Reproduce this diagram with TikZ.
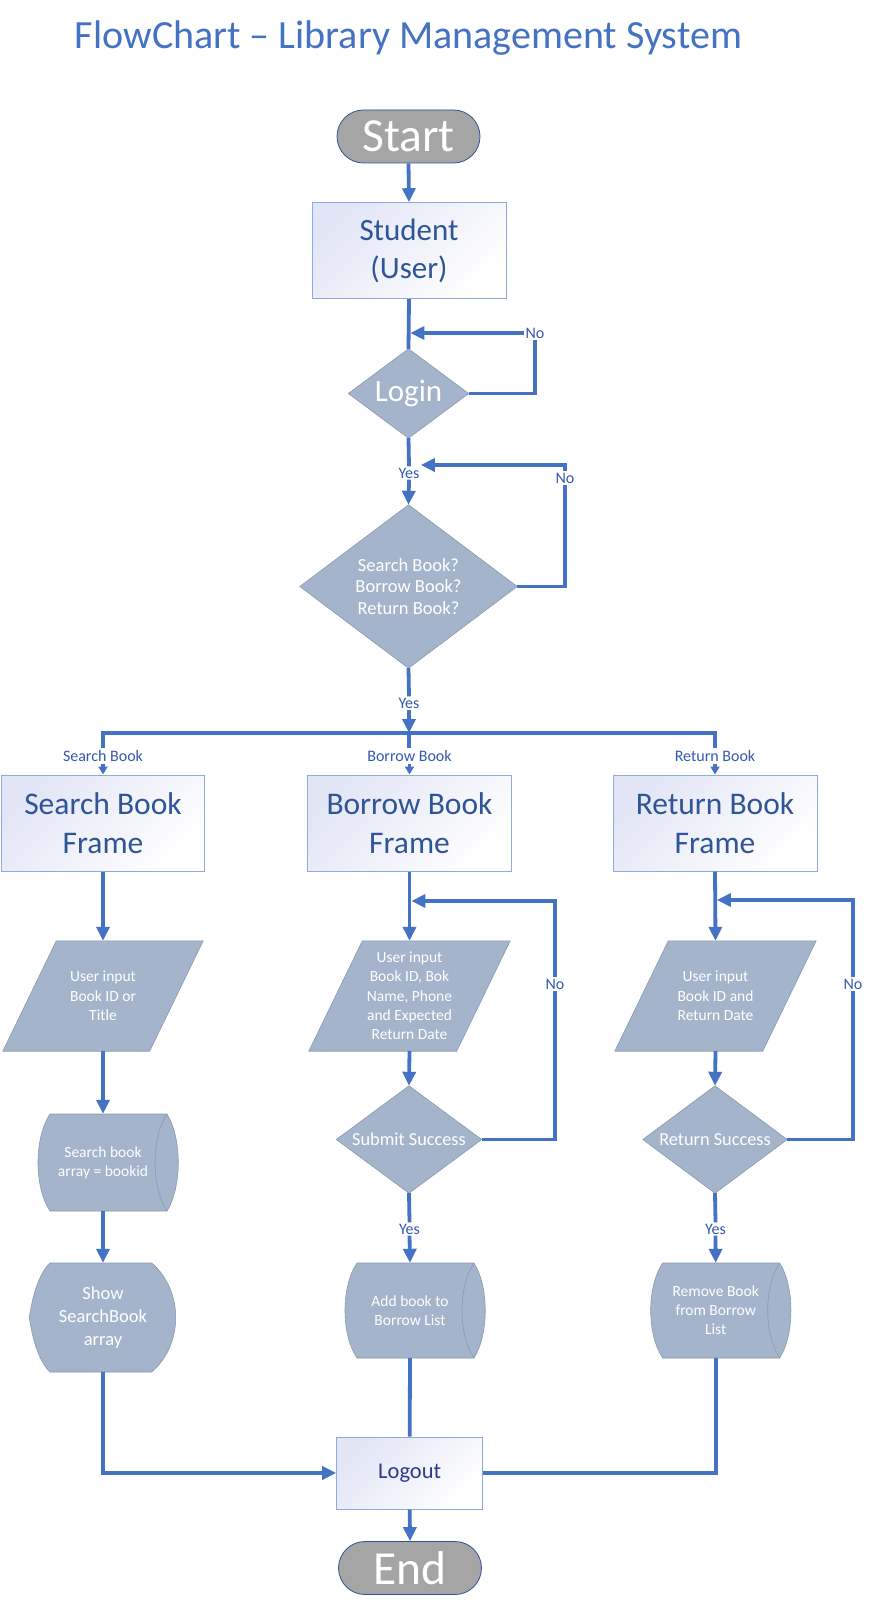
\documentclass[tikz,border=0pt]{standalone}
\usepackage{fontspec}
\setmainfont{Carlito}
\usetikzlibrary{arrows.meta,backgrounds,calc}
\definecolor{lineblue}{RGB}{68,114,196}
\definecolor{shapefill}{RGB}{164,180,203}
\definecolor{shapeedge}{RGB}{138,154,180}
\definecolor{boxedge}{RGB}{143,170,220}
\definecolor{lav}{RGB}{226,229,245}
\definecolor{boxtext}{RGB}{47,85,151}
\definecolor{logtext}{RGB}{46,58,140}
\definecolor{termfill}{RGB}{165,165,165}
\definecolor{termedge}{RGB}{47,85,151}
\definecolor{labtext}{RGB}{52,90,175}
\begin{document}
\begin{tikzpicture}[x=1pt,y=-1pt,
  flow/.style={draw=lineblue, line width=3.8pt},
  arr/.style={flow, -{Triangle[length=14pt,width=13pt]}},
  sarr/.style={flow, -{Triangle[length=8pt,width=9pt]}},
  lab/.style={text=labtext, font=\fontsize{16}{19}\selectfont, inner sep=1.2pt},
  term/.style={rectangle, rounded corners=26.5pt, minimum width=143pt, minimum height=53pt,
    fill=termfill, draw=termedge, line width=0.8pt, text=white,
    font=\fontsize{47.5}{50}\selectfont, inner sep=0pt},
  proc/.style={rectangle, draw=boxedge, line width=1pt, top color=lav, bottom color=white,
    shading angle=45, text=boxtext, align=center, inner sep=0pt},
  shp/.style={rectangle, inner sep=0pt, text=white, align=center},
  dia/.style={fill=shapefill, draw=shapeedge, line width=0.6pt},
  diaedge/.style={draw=shapeedge, line width=0.6pt}
]
\useasboundingbox (0,0) rectangle (871,1621);

% title
\node[text=lineblue, font=\fontsize{40}{48}\selectfont, anchor=base, inner sep=0pt] (title) at (408.5,49) {FlowChart – Library Management System};

% main nodes
\node[term] (start) at (408.5,136.5) {Start};
\node[proc, minimum width=194pt, minimum height=96pt, font=\fontsize{31}{38.5}\selectfont] (student) at (409,250.7) {\raisebox{-2pt}{Student}\\\raisebox{-2pt}{(User)}};
\node[shp, minimum width=120pt, minimum height=89pt, font=\fontsize{31}{36}\selectfont] (login) at (408.5,393.5) {\raisebox{-2pt}{Login}};
\node[shp, minimum width=217pt, minimum height=163pt, font=\fontsize{18.5}{21.7}\selectfont] (menu) at (408.5,586.5) {Search Book?\\Borrow Book?\\Return Book?};

% labels
\node[lab] (nol) at (535,333) {No};
\node[lab] (yes1) at (409,473) {Yes};
\node[lab] (nom) at (565,478) {No};
\node[lab] (yes2) at (409,703) {Yes};
\coordinate (bus) at (409,733);
\node[lab, inner sep=2pt] (labS) at (103,756) {Search Book};
\node[lab, inner sep=2pt] (labB) at (409.5,756) {Borrow Book};
\node[lab, inner sep=2pt] (labR) at (715,756) {Return Book};

% frames
\node[proc, minimum width=203pt, minimum height=96pt, font=\fontsize{31.5}{38.5}\selectfont] (sframe) at (103,823) {Search Book\\Frame};
\node[proc, minimum width=204pt, minimum height=96pt, font=\fontsize{31.5}{38.5}\selectfont] (bframe) at (409.5,823) {Borrow Book\\Frame};
\node[proc, minimum width=204pt, minimum height=96pt, font=\fontsize{31.5}{38.5}\selectfont] (rframe) at (715,823) {Return Book\\Frame};

% inputs
\node[shp, minimum width=200pt, minimum height=110pt, font=\fontsize{15.5}{19.3}\selectfont] (sin) at (103,996) {User input\\Book ID or\\Title};
\node[shp, minimum width=201pt, minimum height=110pt, font=\fontsize{15.5}{19.3}\selectfont] (bin) at (409.5,996) {User input\\Book ID, Bok\\Name, Phone\\and Expected\\Return Date};
\node[shp, minimum width=201pt, minimum height=110pt, font=\fontsize{15.5}{19.3}\selectfont] (rin) at (715.5,996) {User input\\Book ID and\\Return Date};

% decisions
\node[shp, minimum width=145pt, minimum height=107pt, font=\fontsize{18.3}{21.7}\selectfont] (bsub) at (409,1139.5) {Submit Success};
\node[shp, minimum width=144pt, minimum height=107pt, font=\fontsize{18.3}{21.7}\selectfont] (rsub) at (715,1139.5) {Return Success};
\node[lab] (nob) at (555,984) {No};
\node[lab] (nor) at (853,984) {No};
\node[lab] (yes3) at (409.5,1229) {Yes};
\node[lab] (yes4) at (715.5,1229) {Yes};
\coordinate (bj) at (409.5,901);
\coordinate (rj) at (715,900);

% stored data / display
\node[shp, minimum width=117pt, minimum height=97pt, font=\fontsize{15.5}{19}\selectfont] (sdb) at (103,1162.5) {Search book\\array = bookid};
\node[shp, minimum width=117pt, minimum height=95pt, font=\fontsize{15.5}{19}\selectfont] (add) at (410,1310.5) {Add book to\\Borrow List};
\node[shp, minimum width=117pt, minimum height=95pt, font=\fontsize{15.5}{19}\selectfont] (rem) at (715.7,1310.5) {Remove Book\\from Borrow\\List};
\node[shp, minimum width=150pt, minimum height=109pt, font=\fontsize{18.5}{22.8}\selectfont] (sdisp) at (103,1317.5) {Show\\SearchBook\\array};

% end part
\node[proc, minimum width=146pt, minimum height=72pt, font=\fontsize{22.5}{26}\selectfont, text=logtext] (logout) at (409.7,1473) {Logout};
\node[term] (end) at (410,1568) {End};

% background shapes
\begin{scope}[on background layer]
  \fill[white] (0,0) rectangle (871,1621);
  \foreach \nm in {login,menu,bsub,rsub}
    \filldraw[dia] (\nm.north) -- (\nm.east) -- (\nm.south) -- (\nm.west) -- cycle;
  \foreach \nm in {sin,bin,rin}
    \filldraw[dia] ([xshift=53.5pt]\nm.north west) -- (\nm.north east) -- ([xshift=-53.5pt]\nm.south east) -- (\nm.south west) -- cycle;
  \foreach \nm/\h in {sdb/48.5,add/47.5,rem/47.5} {
    \begin{scope}[shift={(\nm.center)}]
      \filldraw[dia] (-53,-\h) .. controls (-69,-\h/2) and (-69,\h/2) .. (-53,\h) -- (64,\h)
        .. controls (79,\h/2) and (79,-\h/2) .. (64,-\h) -- cycle;
      \draw[diaedge] (64,-\h) .. controls (48,-\h/2) and (48,\h/2) .. (64,\h);
    \end{scope}
  }
  \begin{scope}[shift={(sdisp.center)}]
    \filldraw[dia] (-53,-54.5) -- (48.7,-54.5) .. controls (80.7,-27) and (80.7,27) .. (48.7,54.5)
      -- (-53,54.5) .. controls (-63,45) and (-70,25) .. (-73.7,0)
      .. controls (-70,-25) and (-63,-45) .. cycle;
  \end{scope}
\end{scope}

% connectors
\draw[arr] (start.south) -- (student.north);
\draw[flow] (student.south) -- (login.north);
\draw[flow] (login.east) -| (nol.south);
\draw[arr, shorten >=1.9pt] (nol.west) -- (nol.west -| login.north);
\draw[flow] (login.south) -- (yes1.north);
\draw[arr] (yes1.south) -- (menu.north);
\draw[flow] (menu.east) -| (nom.south);
\draw[arr] (nom.north) |- ([yshift=8pt]yes1.east);
\draw[flow] (menu.south) -- (yes2.north);
\draw[arr] (yes2.south) -- (bus);
\draw[flow] (labS.north) -- (labS.north |- bus) -- (labR.north |- bus) -- (labR.north);
\draw[flow] (bus) -- (bus |- labB.north);
\draw[sarr] (labS.south) -- (sframe.north);
\draw[sarr] (labB.south) -- (bframe.north);
\draw[sarr] (labR.south) -- (rframe.north);
\draw[arr] (sframe.south) -- (sin.north);
\draw[arr] (bframe.south) -- (bin.north);
\draw[arr] (rframe.south) -- (rin.north);
\draw[arr] (sin.south) -- (sdb.north);
\draw[arr] (sdb.south) -- (sdisp.north);
\draw[arr] (bin.south) -- (bsub.north);
\draw[arr] (rin.south) -- (rsub.north);
\draw[flow] (bsub.east) -| (nob.south);
\draw[arr, shorten >=1.9pt] (nob.north) |- (bj);
\draw[flow] (rsub.east) -| (nor.south);
\draw[arr, shorten >=1.9pt] (nor.north) |- (rj);
\draw[flow] (bsub.south) -- (yes3.north);
\draw[arr] (yes3.south) -- (add.north);
\draw[flow] (rsub.south) -- (yes4.north);
\draw[arr] (yes4.south) -- (rem.north);
\draw[arr] (sdisp.south) |- (logout.west);
\draw[flow] (add.south) -- (logout.north);
\draw[flow] (rem.south) |- (logout.east);
\draw[arr] (logout.south) -- (end.north);
\end{tikzpicture}
\end{document}
